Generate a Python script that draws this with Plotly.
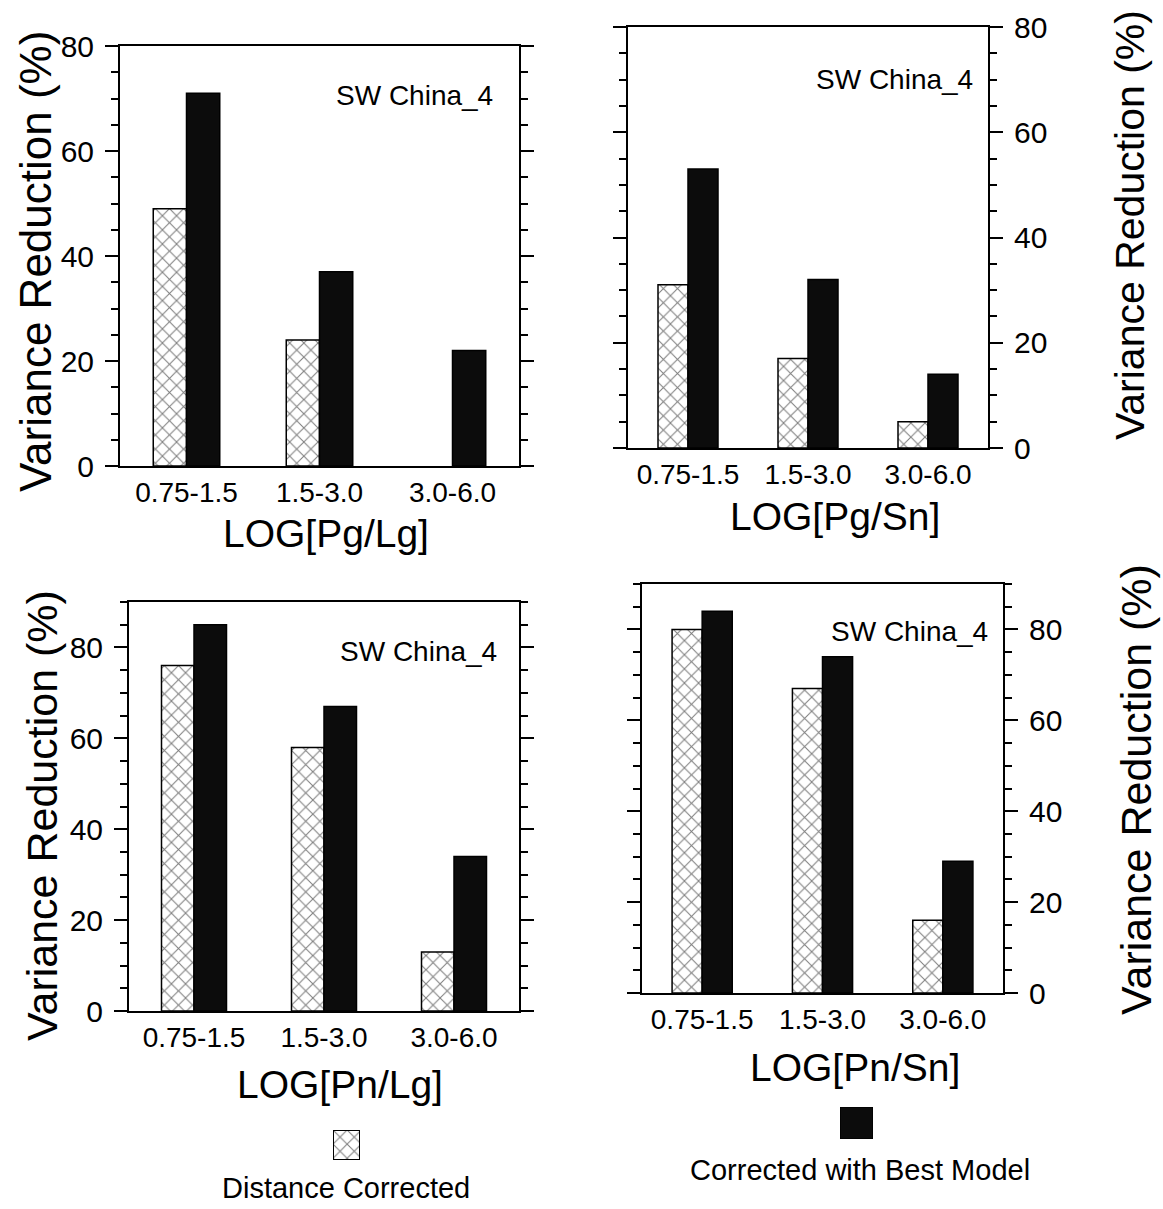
import plotly.graph_objects as go

W, H = 1163, 1209

# ---- data -------------------------------------------------------------
categories = ["0.75-1.5", "1.5-3.0", "3.0-6.0"]

pg_lg_distance = [49, 24, None]
pg_lg_best = [71, 37, 22]

pg_sn_distance = [31, 17, 5]
pg_sn_best = [53, 32, 14]

pn_lg_distance = [76, 58, 13]
pn_lg_best = [85, 67, 34]

pn_sn_distance = [80, 67, 16]
pn_sn_best = [84, 74, 29]

x_titles = ["LOG[Pg/Lg]", "LOG[Pg/Sn]", "LOG[Pn/Lg]", "LOG[Pn/Sn]"]
y_title = "Variance Reduction (%)"
station_label = "SW China_4"
legend_names = ["Distance Corrected", "Corrected with Best Model"]

FONT = "Liberation Sans, Arial, Helvetica, sans-serif"


def fx(px):
    return px / W


def fy(py):
    return 1 - py / H


# panel boxes in pixels: (left, right, top, bottom)
panels = [
    dict(box=(120, 519, 46, 466), ymax=80, side="left",
         dist=pg_lg_distance, best=pg_lg_best, xt=x_titles[0],
         xt_pos=(326, 533), yt_pos=(35, 262), yt_size=44, st_pos=(414, 96)),
    dict(box=(628, 988, 27, 448), ymax=80, side="right",
         dist=pg_sn_distance, best=pg_sn_best, xt=x_titles[1],
         xt_pos=(835, 517), yt_pos=(1130, 225), yt_size=41, st_pos=(894, 79)),
    dict(box=(129, 519, 602, 1011), ymax=90, side="left",
         dist=pn_lg_distance, best=pn_lg_best, xt=x_titles[2],
         xt_pos=(340, 1084), yt_pos=(42, 816), yt_size=43, st_pos=(418, 651)),
    dict(box=(642, 1003, 584, 993), ymax=90, side="right",
         dist=pn_sn_distance, best=pn_sn_best, xt=x_titles[3],
         xt_pos=(855, 1067), yt_pos=(1136, 790), yt_size=43, st_pos=(909, 631)),
]

hatch = dict(shape="x", fgcolor="black", bgcolor="white", size=10, solidity=0.2)
dark = "#0c0c0c"

fig = go.Figure()
layout = dict(
    width=W, height=H,
    margin=dict(l=0, r=0, t=0, b=0, autoexpand=False),
    paper_bgcolor="white", plot_bgcolor="white",
    barmode="group", bargap=0.5, bargroupgap=0,
    showlegend=False,
    font=dict(family=FONT, color="black"),
)
annotations = []

for i, p in enumerate(panels, start=1):
    l, r, t, b = p["box"]
    xa, ya = f"x{i}", f"y{i}"
    fig.add_trace(go.Bar(
        x=categories, y=p["dist"], xaxis=xa, yaxis=ya, name=legend_names[0],
        marker=dict(color="white", pattern=hatch, line=dict(color="black", width=1.5)),
    ))
    fig.add_trace(go.Bar(
        x=categories, y=p["best"], xaxis=xa, yaxis=ya, name=legend_names[1],
        marker=dict(color=dark, line=dict(color="black", width=1.5)),
    ))
    layout[f"xaxis{i}"] = dict(
        domain=[fx(l), fx(r)], anchor=ya, type="category", automargin=False,
        showline=True, linecolor="black", linewidth=2, mirror=True,
        ticks="", showgrid=False, zeroline=False,
        tickfont=dict(size=28, family=FONT, color="black"),
        ticklabelstandoff=0,
    )
    layout[f"yaxis{i}"] = dict(
        domain=[fy(b), fy(t)], anchor=xa, range=[0, p["ymax"]], side=p["side"],
        automargin=False,
        showline=True, linecolor="black", linewidth=2, mirror="ticks",
        ticks="outside", ticklen=13, tickwidth=2, tickcolor="black",
        tick0=0, dtick=20,
        minor=dict(dtick=5, ticks="outside", ticklen=7, tickwidth=1.5, tickcolor="black"),
        showgrid=False, zeroline=False,
        tickfont=dict(size=30, family=FONT, color="black"),
        ticklabelstandoff=5,
    )
    annotations.append(dict(
        text=p["xt"], x=fx(p["xt_pos"][0]), y=fy(p["xt_pos"][1]),
        xref="paper", yref="paper", xanchor="center", yanchor="middle",
        showarrow=False, font=dict(size=39, family=FONT, color="black"),
    ))
    annotations.append(dict(
        text=y_title, x=fx(p["yt_pos"][0]), y=fy(p["yt_pos"][1]), textangle=-90,
        xref="paper", yref="paper", xanchor="center", yanchor="middle",
        showarrow=False, font=dict(size=p["yt_size"], family=FONT, color="black"),
    ))
    annotations.append(dict(
        text=station_label, x=fx(p["st_pos"][0]), y=fy(p["st_pos"][1]),
        xref="paper", yref="paper", xanchor="center", yanchor="middle",
        showarrow=False, font=dict(size=28, family=FONT, color="black"),
    ))

# ---- legend: swatch above each label ----------------------------------
swatches = [
    dict(box=(333, 360, 1130, 1160), text_pos=(346, 1188),
         marker=dict(color="white", pattern=hatch, line=dict(color="black", width=2))),
    dict(box=(840, 873, 1107, 1139), text_pos=(860, 1170),
         marker=dict(color=dark, line=dict(color="black", width=1.5))),
]
for j, s in enumerate(swatches, start=5):
    l, r, t, b = s["box"]
    fig.add_trace(go.Bar(
        x=[0], y=[1], width=[1], xaxis=f"x{j}", yaxis=f"y{j}",
        name=legend_names[j - 5], marker=s["marker"], hoverinfo="skip",
    ))
    layout[f"xaxis{j}"] = dict(domain=[fx(l), fx(r)], anchor=f"y{j}", range=[-0.5, 0.5],
                               visible=False, fixedrange=True, automargin=False)
    layout[f"yaxis{j}"] = dict(domain=[fy(b), fy(t)], anchor=f"x{j}", range=[0, 1],
                               visible=False, fixedrange=True, automargin=False)
    annotations.append(dict(
        text=legend_names[j - 5], x=fx(s["text_pos"][0]), y=fy(s["text_pos"][1]),
        xref="paper", yref="paper", xanchor="center", yanchor="middle",
        showarrow=False, font=dict(size=29, family=FONT, color="black"),
    ))

layout["annotations"] = annotations
fig.update_layout(**layout)
fig.write_html("out.html")
